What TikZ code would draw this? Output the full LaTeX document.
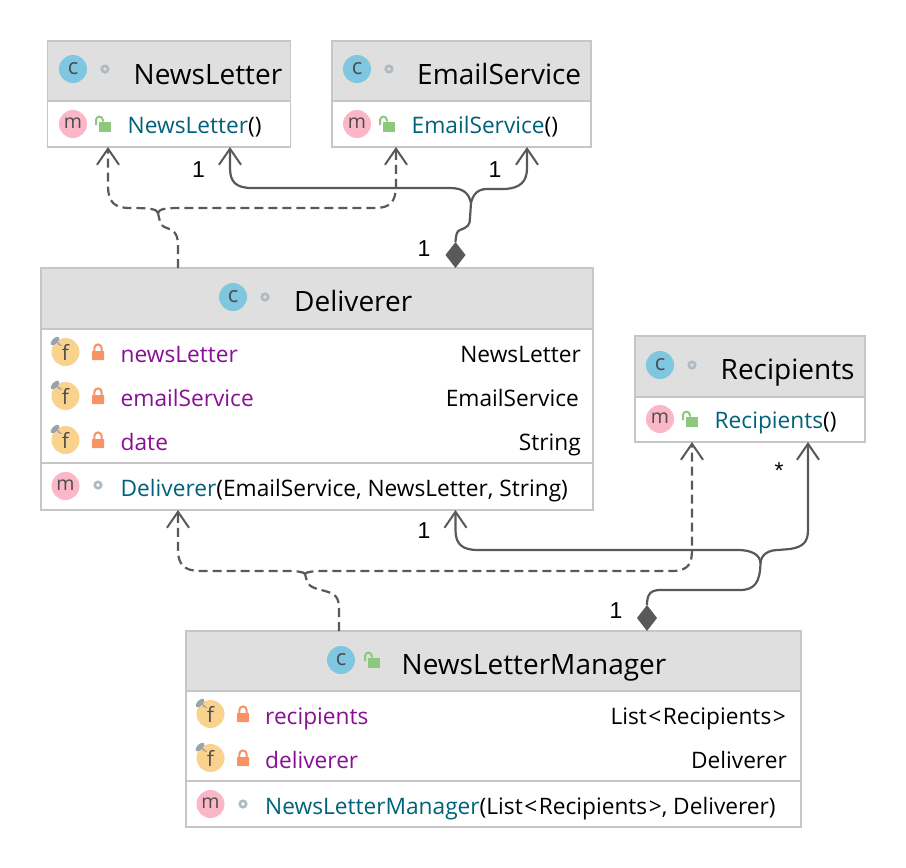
\documentclass[tikz,border=0pt]{standalone}
\usepackage{fontspec}
\setmainfont{Open Sans}
\newfontfamily\lblfont{Liberation Sans}
\usetikzlibrary{arrows.meta,shapes.geometric}
\definecolor{hdr}{HTML}{DFDFDF}
\definecolor{brd}{HTML}{C6C6C6}
\definecolor{cfield}{HTML}{871094}
\definecolor{cmeth}{HTML}{00627A}
\definecolor{conn}{HTML}{595959}
\definecolor{icc}{HTML}{7FC6E0}
\definecolor{icm}{HTML}{FBB7C8}
\definecolor{icf}{HTML}{F9D28E}
\definecolor{lockr}{HTML}{F79265}
\definecolor{lockg}{HTML}{8CC97C}
\definecolor{dotg}{HTML}{AEB9C0}
\definecolor{pinc}{HTML}{98A3AC}
\tikzset{
  classbody/.style={draw=brd,line width=1.5pt,fill=white,inner sep=0,outer sep=0,anchor=north west},
  headbox/.style={draw=brd,line width=1.5pt,fill=hdr,inner sep=0,outer sep=0,anchor=north west},
  sepline/.style={draw=brd,line width=2pt},
  title/.style={anchor=base west,inner sep=0,font=\fontsize{28}{32}\selectfont,text=black},
  body/.style={anchor=base west,inner sep=0,font=\fontsize{22.7}{26}\selectfont,text=black},
  fieldname/.style={body,text=cfield},
  typename/.style={body,anchor=base east},
  mult/.style={inner sep=0,font=\lblfont\fontsize{23}{26}\selectfont,text=black},
  icon/.style={circle,inner sep=0,outer sep=0,minimum size=28pt,text=black!70},
  solidc/.style={draw=conn,line width=2.2pt,-{Straight Barb[length=16pt,width=22pt,line width=2pt]}},
  solidn/.style={draw=conn,line width=2.2pt},
  dashc/.style={solidc,dash pattern=on 9pt off 5pt},
  dashn/.style={solidn,dash pattern=on 9pt off 5pt},
  comp/.style={diamond,fill=conn,inner sep=0,outer sep=0,minimum width=20pt,minimum height=26pt,anchor=south},
}
\newcommand{\iconc}[2]{\node[icon,fill=icc,font=\fontsize{22}{22}\selectfont] (#1) at (#2) {\raisebox{1pt}{c}};}
\newcommand{\iconm}[2]{\node[icon,fill=icm,font=\fontsize{19.5}{20}\selectfont] (#1) at (#2) {\raisebox{1pt}{m}};}
\newcommand{\iconf}[2]{\node[icon,fill=icf,font=\fontsize{21}{21}\selectfont] (#1) at (#2) {f};
  \begin{scope}[shift={(#2)}]
    \fill[pinc] (-3,-6) -- (-9,-11) -- (-7,-7) -- cycle;
    \fill[pinc,shift={(-10.5,-11)},rotate=45] (0,0) ellipse (5.5 and 2.8);
  \end{scope}}
\newcommand{\visdot}[1]{\draw[dotg,line width=2.6pt] (#1) circle (3.2);}
\newcommand{\lockclosed}[1]{\begin{scope}[shift={(#1)}]
    \fill[lockr,rounded corners=0.6pt] (-6,-1) rectangle (6,8);
    \draw[lockr,line width=2pt] (-3.6,-1) -- (-3.6,-4) arc (180:0:3.6 and -3.6) -- (3.6,-1);
  \end{scope}}
\newcommand{\lockopen}[1]{\begin{scope}[shift={(#1)}]
    \fill[lockg] (-4.5,-2.5) rectangle (8,7.5);
    \draw[lockg,line width=2pt] (-7,1) -- (-7,-4) arc (180:0:3.4 and -3.4) -- (-0.2,-2.5);
  \end{scope}}
\begin{document}
\begin{tikzpicture}[x=1pt,y=-1pt]
\useasboundingbox (0,0) rectangle (906,868);
\fill[white] (0,0) rectangle (906,868);

% NewsLetter
\node[classbody,minimum width=243pt,minimum height=106pt] (newsletter) at (47.5,41) {};
\node[headbox,minimum width=243pt,minimum height=60pt] (newsletterhead) at (newsletter.north west) {};
\iconc{nlc}{73,69}\visdot{105,69}
\node[title] (nltitle) at (133.5,84) {NewsLetter};
\iconm{nlm}{73,124}\lockopen{103,124}
\node[body] (nlmeth) at (127.5,133) {\textcolor{cmeth}{NewsLetter}()};

% EmailService
\node[classbody,minimum width=259pt,minimum height=106pt] (email) at (332,41) {};
\node[headbox,minimum width=259pt,minimum height=60pt] (emailhead) at (email.north west) {};
\iconc{esc}{357,69}\visdot{389,69}
\node[title] (estitle) at (417,84) {EmailService};
\iconm{esm}{357,124}\lockopen{387,124}
\node[body] (esmeth) at (411.5,133) {\textcolor{cmeth}{EmailService}()};

% Deliverer
\node[classbody,minimum width=552pt,minimum height=242pt] (deliverer) at (41,268) {};
\node[headbox,minimum width=552pt,minimum height=61pt] (delivererhead) at (deliverer.north west) {};
\draw[sepline] (deliverer.west |- 0,463) -- (deliverer.east |- 0,463);
\iconc{dc}{233,297}\visdot{265,297}
\node[title] (dtitle) at (294,311) {Deliverer};
\iconf{df1}{65.5,352}\lockclosed{98,352}
\node[fieldname] (dn1) at (120.5,362) {newsLetter};
\node[typename] (dt1) at (581,362) {NewsLetter};
\iconf{df2}{65.5,396}\lockclosed{98,396}
\node[fieldname] (dn2) at (120.5,406) {emailService};
\node[typename] (dt2) at (579,406) {EmailService};
\iconf{df3}{65.5,440}\lockclosed{98,440}
\node[fieldname] (dn3) at (120.5,450) {date};
\node[typename] (dt3) at (581,450) {String};
\iconm{dm}{65.5,486}\visdot{98,485}
\node[body] (dmeth) at (120.5,496) {\textcolor{cmeth}{Deliverer}(EmailService, NewsLetter, String)};

% Recipients
\node[classbody,minimum width=230pt,minimum height=106pt] (recipients) at (635,336) {};
\node[headbox,minimum width=230pt,minimum height=61pt] (recipientshead) at (recipients.north west) {};
\iconc{rc}{660,365}\visdot{692,365}
\node[title] (rtitle) at (720.5,379) {Recipients};
\iconm{rm}{660,419}\lockopen{690,419}
\node[body] (rmeth) at (714.5,428) {\textcolor{cmeth}{Recipients}()};

% NewsLetterManager
\node[classbody,minimum width=615pt,minimum height=196pt] (manager) at (186,631) {};
\node[headbox,minimum width=615pt,minimum height=60pt] (managerhead) at (manager.north west) {};
\draw[sepline] (manager.west |- 0,781) -- (manager.east |- 0,781);
\iconc{mc}{341,660}\lockopen{372,660}
\node[title] (mtitle) at (401.5,674) {NewsLetterManager};
\iconf{mf1}{210.5,714}\lockclosed{243,714}
\node[fieldname] (mn1) at (265,724) {recipients};
\node[typename] (mt1) at (786,724) {List\kern1.5pt<\kern1.5pt Recipients\kern1.5pt>};
\iconf{mf2}{210.5,758}\lockclosed{243,758}
\node[fieldname] (mn2) at (265,768) {deliverer};
\node[typename] (mt2) at (787,768) {Deliverer};
\iconm{mm}{210.5,804}\visdot{243,804}
\node[body] (mmeth) at (265,814) {\textcolor{cmeth}{NewsLetterManager}(List\kern1.5pt<\kern1.5pt Recipients\kern1.5pt>, Deliverer)};

% Composition diamonds
\node[comp] (d1) at ([xshift=414.5pt]deliverer.north west) {};
\node[comp] (d2) at ([xshift=461pt]manager.north west) {};

% Junctions
\coordinate (j1) at (158,213);
\coordinate (j2) at (471,203);
\coordinate (j3) at (305,574);
\coordinate (j4) at (760.5,563);

% Upper dependencies
\draw[dashn] ([xshift=137pt]deliverer.north west) -- (178,245)
  .. controls (178,232) and (172,230) .. (167,228)
  .. controls (160,226) and (160,222) .. (j1);
\draw[dashc] (j1) .. controls (157,209) and (150,208) .. (130,208)
  .. controls (115,208) and (108,203) .. (108,185) -- ([xshift=60.5pt]newsletter.south west);
\draw[dashc] (j1) .. controls (159,209) and (165,208) .. (180,208) -- (375,208)
  .. controls (390,208) and (396,202) .. (396,185) -- ([xshift=64pt]email.south west);

% Upper composition
\draw[solidn] (d1.north) .. controls (456,234) and (457,231) .. (460,230)
  .. controls (468,227) and (470,225) .. (470,218) -- (j2);
\draw[solidc] (j2) .. controls (469,194) and (464,188) .. (450,188) -- (252,188)
  .. controls (236,188) and (230,182) .. (230,168) -- ([xshift=182.5pt]newsletter.south west);
\draw[solidc] (j2) .. controls (473,194) and (478,189) .. (487,189) -- (505,189)
  .. controls (520,188) and (527,182) .. (527,168) -- ([xshift=195pt]email.south west);

% Lower dependencies
\draw[dashn] ([xshift=153pt]manager.north west) -- (339,610)
  .. controls (339,596) and (335,594) .. (325,591)
  .. controls (310,587) and (308,587) .. (j3);
\draw[dashc] (j3) .. controls (304,572) and (298,571) .. (285,571) -- (200,571)
  .. controls (184,571) and (178,564) .. (178,550) -- ([xshift=137pt]deliverer.south west);
\draw[dashc] (j3) .. controls (306,572) and (312,571) .. (325,571) -- (672,571)
  .. controls (688,571) and (692,564) .. (692,550) -- ([xshift=57pt]recipients.south west);

% Lower composition
\draw[solidn] (d2.north) .. controls (647,595) and (650,590) .. (660,590) -- (740,590)
  .. controls (755,590) and (760,582) .. (j4);
\draw[solidc] (j4) .. controls (760,555) and (752,550) .. (738,550) -- (478,550)
  .. controls (462,550) and (455.5,544) .. (455.5,530) -- ([xshift=414.5pt]deliverer.south west);
\draw[solidc] (j4) .. controls (761,555) and (768,550) .. (778,550) -- (790,549)
  .. controls (803,547) and (808,542) .. (808,530) -- ([xshift=173pt]recipients.south west);

% Multiplicities
\node[mult] (m1) at (198.5,170) {1};
\node[mult] (m2) at (495,170) {1};
\node[mult] (m3) at (424,249) {1};
\node[mult] (m4) at (424,531) {1};
\node[mult] (m5) at (616,611) {1};
\node[mult] (m6) at (779,471) {*};
\end{tikzpicture}
\end{document}
